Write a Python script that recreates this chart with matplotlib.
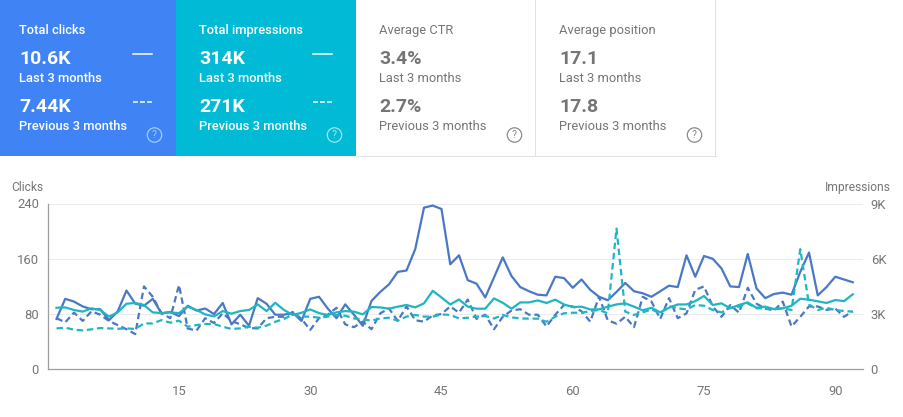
import matplotlib
matplotlib.use("Agg")
import matplotlib.pyplot as plt
from matplotlib.patches import Rectangle, Circle
from matplotlib.lines import Line2D

plt.rcParams['font.family'] = ['Roboto', 'DejaVu Sans']

W, H = 904, 417

clicks_current = [73,102,98,91,87,87,71,84,114,95,92,102,81,83,77,92,85,88,80,96,65,79,63,103,95,79,79,82,70,
                  102,105,88,74,94,79,63,99,112,123,141,143,174,234,237,232,152,165,129,124,104,133,162,135,119,113,108,107,134,132,118,130,115,105,
                  100,112,125,113,110,105,113,121,119,165,134,164,160,146,120,119,167,117,103,109,111,108,141,169,107,119,134,130,126]
clicks_previous = [74,68,82,70,84,79,70,64,58,51,120,105,81,74,122,59,56,74,67,81,70,65,60,59,74,76,76,83,73,
                   57,74,79,89,65,61,69,58,81,88,70,91,71,69,78,80,91,82,101,73,79,58,76,85,87,79,79,62,79,93,91,84,69,105,
                   71,66,76,61,105,98,73,103,74,81,115,120,91,76,93,82,118,95,88,85,98,62,76,91,91,86,88,76,84]
impressions_current = [3340,3360,3220,3130,3310,3220,2860,3090,3560,3600,3490,3090,3050,3090,3050,3400,3220,2980,2870,3160,3020,3160,3220,3520,3160,3610,3220,2950,3070,
                       3250,3050,2950,3090,3160,3130,2980,3380,3360,3290,3400,3490,3360,3580,4260,3900,3520,3790,3400,3290,3290,3850,3610,3290,3630,3630,3740,3600,3780,3520,3380,3400,3250,3250,
                       3400,3520,3580,3400,3200,3340,3090,3340,3520,3520,3700,3980,3490,3580,3310,3490,3630,3340,3400,3270,3310,3450,3830,3780,3690,3600,3760,3700,4070]
impressions_previous = [2220,2260,2150,2110,2170,2240,2220,2200,2220,2190,2490,2490,2670,2530,2640,2310,2400,2460,2460,2310,2190,2220,2310,2260,2370,2580,2730,2980,2860,
                        2860,2800,2860,2950,2910,2760,2710,2640,2760,2800,2640,2860,2950,2860,2860,2980,2950,2760,2800,2860,2890,2760,2950,2820,2760,2750,2750,2580,2860,3040,3070,3070,3160,3220,
                        3040,7640,3130,2950,3090,3250,3040,3430,3310,3250,3490,3450,3220,3090,3340,3400,3580,3310,3310,3250,3310,3220,6520,3520,3220,3340,3220,3160,3130]

card_titles = ["Total clicks", "Total impressions", "Average CTR", "Average position"]
card_current = ["10.6K", "314K", "3.4%", "17.1"]
card_previous = ["7.44K", "271K", "2.7%", "17.8"]
period_labels = ["Last 3 months", "Previous 3 months"]
clicks_ticks = [0, 80, 160, 240]
impressions_ticks = [0, 3000, 6000, 9000]
impressions_tick_labels = ["0", "3K", "6K", "9K"]
day_ticks = [15, 30, 45, 60, 75, 90]

BLUE_CARD = "#4083f5"
TEAL_CARD = "#00bad6"
GREY = "#757575"
LINE_BLUE = "#4a78c6"
LINE_TEAL = "#1fb6c4"
PX = 72 / 100

fig = plt.figure(figsize=(W / 100, H / 100), dpi=100, facecolor="white")

bg = fig.add_axes([0, 0, 1, 1])
bg.set_xlim(0, W); bg.set_ylim(H, 0); bg.axis("off")
bg.add_patch(Rectangle((0, 0), 176, 156, fc=BLUE_CARD, ec="none"))
bg.add_patch(Rectangle((176, 0), 180, 156, fc=TEAL_CARD, ec="none"))
BORDER = "#e2e2e2"
bg.add_line(Line2D([356, 716], [155.5, 155.5], color=BORDER, lw=0.72))
bg.add_line(Line2D([535.5, 535.5], [0, 155], color=BORDER, lw=0.72))
bg.add_line(Line2D([715.5, 715.5], [0, 155], color=BORDER, lw=0.72))

card_x = [19.5, 199.5, 379.5, 559.5]
for i, x in enumerate(card_x):
    coloured = i < 2
    c = "white" if coloured else GREY
    sub_w = "medium" if coloured else "normal"
    bg.text(x, 30, card_titles[i], color=c, fontsize=12.9 * PX, va="center", weight=sub_w)
    bg.text(x, 59, card_current[i], color=c, fontsize=19.5 * PX, va="center", weight="bold")
    bg.text(x, 78, period_labels[0], color=c, fontsize=12.9 * PX, va="center", weight=sub_w)
    bg.text(x, 107, card_previous[i], color=c, fontsize=19.5 * PX, va="center", weight="bold")
    bg.text(x, 126, period_labels[1], color=c, fontsize=12.9 * PX, va="center", weight=sub_w)
    if coloured:
        bg.add_line(Line2D([x + 113.5, x + 132.5], [53.5, 53.5], color="white", lw=1.1))
        bg.add_line(Line2D([x + 113.5, x + 132.5], [101.5, 101.5], color="white", lw=1.1, dashes=(3.2, 1.4)))
    ic = "#9ad0fa" if i == 0 else ("#9fe6f0" if i == 1 else "#8a8a8a")
    cx = x + 135
    bg.add_patch(Circle((cx, 135), 7.2, fc="none", ec=ic, lw=0.9))
    bg.text(cx, 135.3, "?", color=ic, fontsize=10.5 * PX, ha="center", va="center")

L, R, T, B = 48, 863, 203.5, 369.3
ax = fig.add_axes([L / W, 1 - B / H, (R - L) / W, (B - T) / H])
ax.patch.set_alpha(0)
days = list(range(1, len(clicks_current) + 1))
ax.set_xlim(0.03, 93.17)
ax.set_ylim(0, 240)
ax.set_yticks(clicks_ticks)
ax.set_xticks(day_ticks)
ax.grid(axis="y", color="#ebebeb", lw=0.72)
ax.set_axisbelow(True)
for s in ("top", "right"):
    ax.spines[s].set_visible(False)
for s in ("left", "bottom"):
    ax.spines[s].set_color("#9e9e9e")
    ax.spines[s].set_linewidth(0.9)
ax.tick_params(axis="y", length=0, pad=6.5, labelsize=13 * PX, labelcolor=GREY)
ax.tick_params(axis="x", length=0, pad=11.5, labelsize=13 * PX, labelcolor=GREY)

ax2 = ax.twinx()
ax2.patch.set_alpha(0)
ax2.set_ylim(0, 9000)
ax2.set_yticks(impressions_ticks)
ax2.set_yticklabels(impressions_tick_labels)
ax2.tick_params(axis="y", length=0, pad=5.5, labelsize=13 * PX, labelcolor=GREY)
for s in ax2.spines.values():
    s.set_visible(False)

ax.plot(days, clicks_previous, color=LINE_BLUE, lw=1.6, dashes=(2.9, 1.7))
ax.plot(days, clicks_current, color=LINE_BLUE, lw=1.6)
ax2.plot(days, impressions_previous, color=LINE_TEAL, lw=1.6, dashes=(2.9, 1.7))
ax2.plot(days, impressions_current, color=LINE_TEAL, lw=1.6)

bg.text(11.5, 187, "Clicks", color=GREY, fontsize=12 * PX, va="center")
bg.text(891, 187, "Impressions", color=GREY, fontsize=12 * PX, va="center", ha="right")

fig.savefig("out.png", dpi=100)
